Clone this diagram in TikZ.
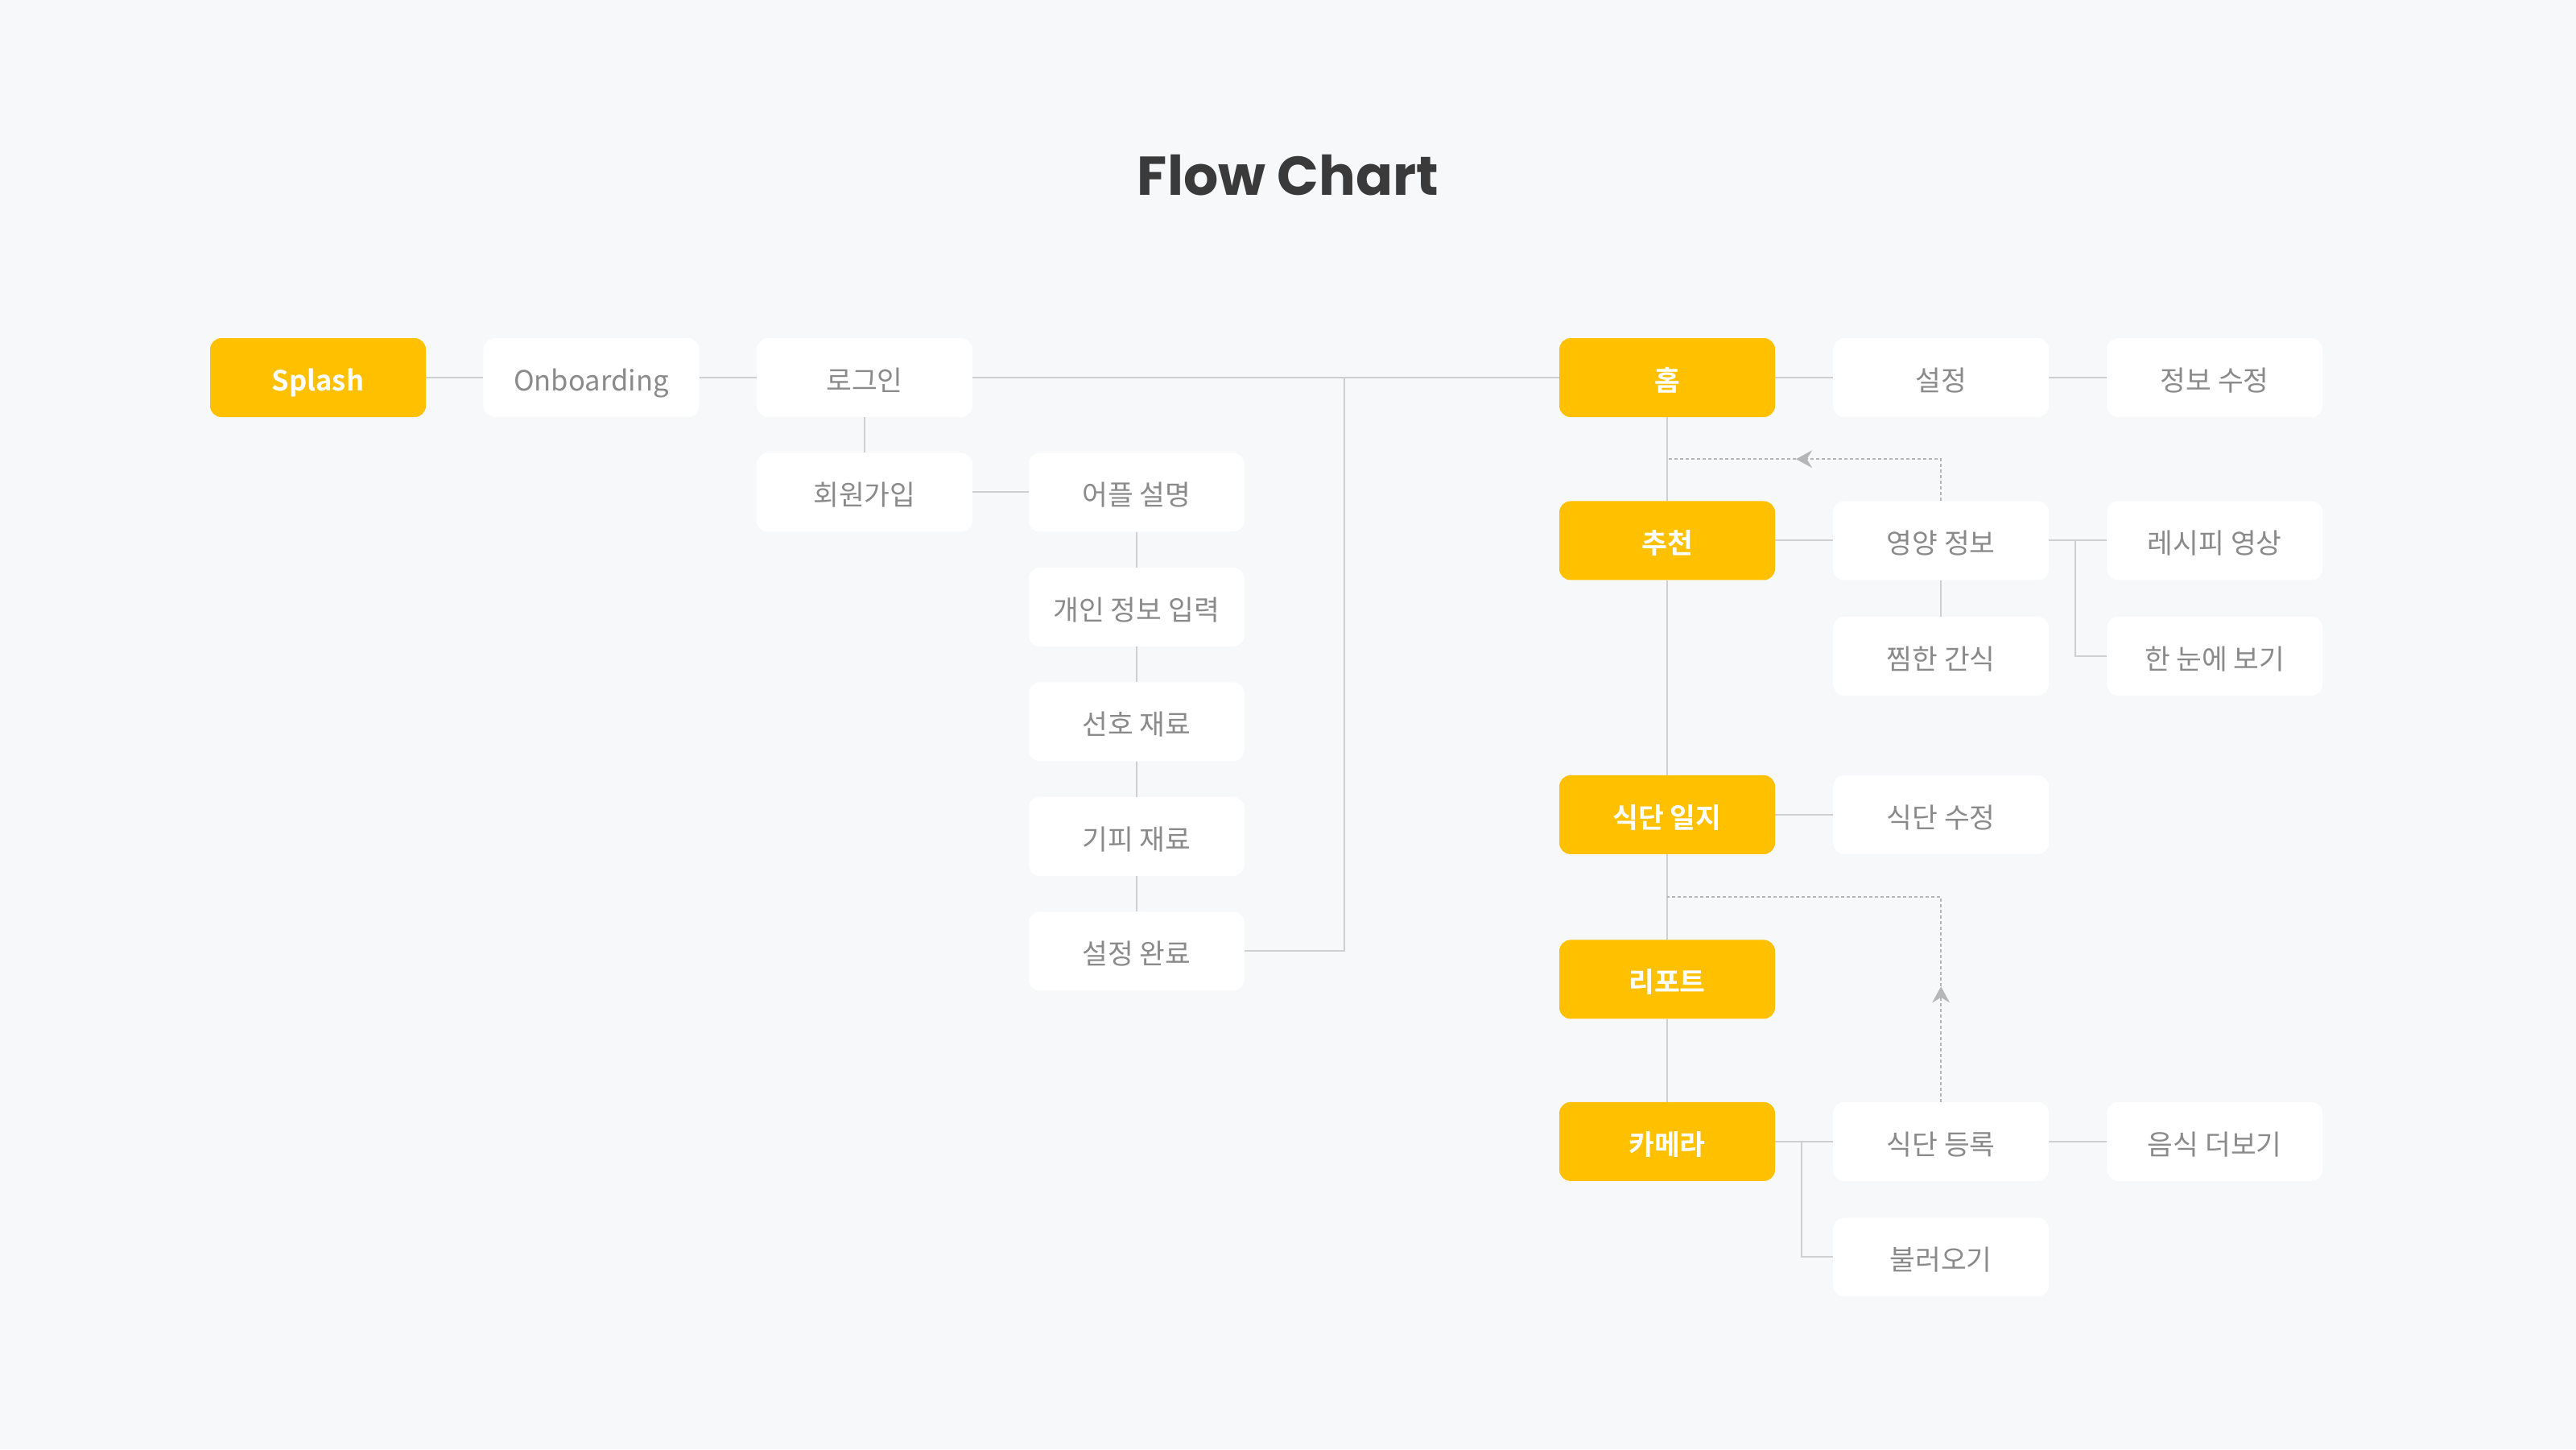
\documentclass[tikz,border=0pt]{standalone}
\usepackage{fontspec}
\setmainfont{Noto Sans CJK KR}[BoldFont={Noto Sans CJK KR Bold}]
\newfontfamily\titlefont{Poppins}
\usetikzlibrary{positioning, calc, arrows.meta}
\definecolor{bggray}{HTML}{F7F8FA}
\definecolor{amber}{HTML}{FFC000}
\definecolor{textgray}{HTML}{8A8A8A}
\definecolor{linegray}{HTML}{CFCFCF}
\definecolor{titlegray}{HTML}{3A3A3A}

\begin{document}
\begin{tikzpicture}[
        box/.style={
            rounded corners=4.2mm,
            minimum width=80.4mm,
            minimum height=29.4mm,
            inner sep=0pt,
            text height=29pt,
            text depth=1pt,
            fill=white,
            text=textgray,
            font=\fontsize{29.5}{34}\selectfont
        },
        main/.style={
            box, fill=amber, text=white,
            font=\fontsize{29.5}{34}\selectfont\bfseries
        },
        link/.style={draw=linegray, line width=0.6mm},
        back/.style={draw=linegray!88!black, line width=0.6mm, dash pattern=on 1.2mm off 0.9mm}
    ]
        % Background
        \fill[bggray] (0,0) rectangle (960mm,-540mm);

        % Title
        \node[text=titlegray, font=\titlefont\fontsize{58}{68}\selectfont\bfseries] (title) at (480mm,-65.4mm) {Flow Chart};

        % Start row
        \node[main] (splash) at (118.5mm,-140.7mm) {Splash};
        \node[box, right=21.3mm of splash] (onboard) {Onboarding};
        \node[box, right=21.3mm of onboard] (login) {로그인};

        % Sign up steps
        \node[box, below=13.2mm of login] (signup) {회원가입};
        \node[box, right=20.8mm of signup] (intro) {어플 설명};
        \node[box, below=13.2mm of intro] (info) {개인 정보 입력};
        \node[box, below=13.2mm of info] (like) {선호 재료};
        \node[box, below=13.2mm of like] (dislike) {기피 재료};
        \node[box, below=13.2mm of dislike] (done) {설정 완료};

        % Main tabs
        \node[main] (home) at (621.3mm,-140.7mm) {홈};
        \node[main, below=31.2mm of home] (recom) {추천};
        \node[main, below=72.6mm of recom] (diary) {식단 일지};
        \node[main, below=31.8mm of diary] (report) {리포트};
        \node[main, below=30.9mm of report] (camera) {카메라};

        % Sub pages
        \node[box, right=21.5mm of home] (setting) {설정};
        \node[box, right=21.5mm of setting] (edit) {정보 수정};
        \node[box, right=21.5mm of recom] (nutri) {영양 정보};
        \node[box, right=21.5mm of nutri] (recipe) {레시피 영상};
        \node[box, below=13.5mm of nutri] (snack) {찜한 간식};
        \node[box, right=21.5mm of snack] (glance) {한 눈에 보기};
        \node[box, right=21.5mm of diary] (dedit) {식단 수정};
        \node[box, right=21.5mm of camera] (reg) {식단 등록};
        \node[box, right=21.5mm of reg] (more) {음식 더보기};
        \node[box, below=13.5mm of reg] (load) {불러오기};

        % Helper points
        \coordinate[right=37.2mm of done.east] (bus);
        \coordinate[right=9.9mm of nutri.east] (forkA);
        \coordinate[right=9.9mm of camera.east] (forkB);
        \coordinate (backA) at ($(home.south)!0.5!(recom.north)$);
        \coordinate[xshift=48mm] (tipA) at (backA);
        \coordinate (backB) at ($(diary.south)!0.5!(report.north)$);
        \coordinate[above=43mm of reg.north] (tipB);

        % Start row links
        \draw[link] (splash.east) -- (onboard.west);
        \draw[link] (onboard.east) -- (login.west);
        \draw[link] (login.east) -- (home.west);
        \draw[link] (login.south) -- (signup.north);
        \draw[link] (signup.east) -- (intro.west);
        \draw[link] (intro.south) -- (info.north);
        \draw[link] (info.south) -- (like.north);
        \draw[link] (like.south) -- (dislike.north);
        \draw[link] (dislike.south) -- (done.north);
        \draw[link] (done.east) -- (bus) |- (login.east);

        % Main tab links
        \draw[link] (home.south) -- (recom.north);
        \draw[link] (recom.south) -- (diary.north);
        \draw[link] (diary.south) -- (report.north);
        \draw[link] (report.south) -- (camera.north);

        % Sub page links
        \draw[link] (home.east) -- (setting.west);
        \draw[link] (setting.east) -- (edit.west);
        \draw[link] (recom.east) -- (nutri.west);
        \draw[link] (nutri.east) -- (recipe.west);
        \draw[link] (nutri.south) -- (snack.north);
        \draw[link] (forkA) |- (glance.west);
        \draw[link] (diary.east) -- (dedit.west);
        \draw[link] (camera.east) -- (reg.west);
        \draw[link] (reg.east) -- (more.west);
        \draw[link] (forkB) |- (load.west);

        % Dotted return paths
        \draw[back, -{Stealth[length=6mm,width=6.5mm]}] (nutri.north) |- (tipA);
        \draw[back] (tipA) -- (backA);
        \draw[back, -{Stealth[length=6mm,width=6.5mm]}] (reg.north) -- (tipB);
        \draw[back] (tipB) |- (backB);
    \end{tikzpicture}
\end{document}
